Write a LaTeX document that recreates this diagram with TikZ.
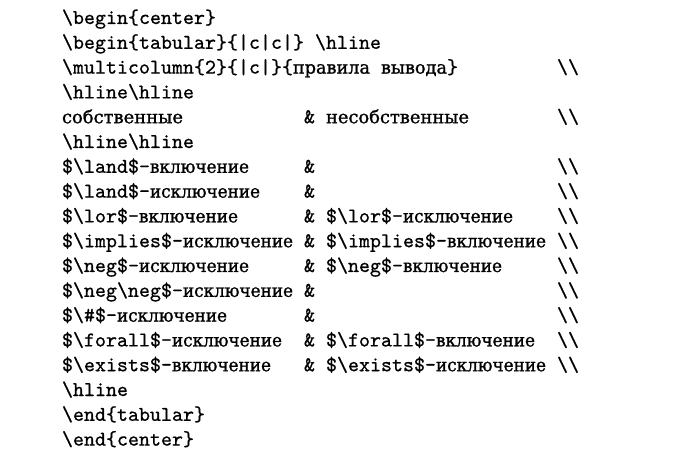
\documentclass[tikz,border=0pt]{standalone}
\usepackage{fontspec}
\usepackage{graphicx}
\newfontfamily\ttf[Extension=.otf,FakeBold=0.7]{lmmono10-regular}
\newfontfamily\cyf[FakeBold=1.2]{DejaVu Serif}
\newlength\cwl
\setlength\cwl{11pt}
\newcommand\mybs{\textbackslash}
\newcommand\mydbs{\textbackslash\textbackslash}
\newcommand\cy[2]{{\cyf\fontsize{17.8pt}{20pt}\selectfont\resizebox{#1\cwl}{\height}{#2}}}
\begin{document}
\begin{tikzpicture}[x=1pt,y=1pt,
  code/.style={anchor=base west,inner sep=0pt,outer sep=0pt,font=\ttf\fontsize{20.952pt}{22pt}\selectfont,text=black}]
\useasboundingbox (0,0) rectangle (696,-454);
\fill[white] (0,0) rectangle (696,-454);
\def\cw{11}
\def\xo{62}
\def\yo{-24}
\def\dy{24.8}
% line 1
\node[code] (l1) at ({\xo},{\yo-0*\dy}) {\mybs begin\{center\}};
% line 2
\node[code] (l2a) at ({\xo},{\yo-1*\dy}) {\mybs begin\{tabular\}\{|c|c|\}};
\node[code] (l2b) at ({\xo+23*\cw},{\yo-1*\dy}) {\mybs hline};
% line 3
\node[code] (l3a) at ({\xo},{\yo-2*\dy}) {\mybs multicolumn\{2\}\{|c|\}\{\cy{7}{правила}};
\node[code] (l3b) at ({\xo+29*\cw},{\yo-2*\dy}) {\cy{6}{вывода}\}};
\node[code] (l3c) at ({\xo+45*\cw},{\yo-2*\dy}) {\mydbs};
% line 4
\node[code] (l4) at ({\xo},{\yo-3*\dy}) {\mybs hline\mybs hline};
% line 5
\node[code] (l5a) at ({\xo},{\yo-4*\dy}) {\cy{11}{собственные}};
\node[code] (l5b) at ({\xo+22*\cw},{\yo-4*\dy}) {\&};
\node[code] (l5c) at ({\xo+24*\cw},{\yo-4*\dy}) {\cy{13}{несобственные}};
\node[code] (l5d) at ({\xo+45*\cw},{\yo-4*\dy}) {\mydbs};
% line 6
\node[code] (l6) at ({\xo},{\yo-5*\dy}) {\mybs hline\mybs hline};
% line 7
\node[code] (l7a) at ({\xo},{\yo-6*\dy}) {\$\mybs land\$-\cy{9}{включение}};
\node[code] (l7b) at ({\xo+22*\cw},{\yo-6*\dy}) {\&};
\node[code] (l7d) at ({\xo+45*\cw},{\yo-6*\dy}) {\mydbs};
% line 8
\node[code] (l8a) at ({\xo},{\yo-7*\dy}) {\$\mybs land\$-\cy{10}{исключение}};
\node[code] (l8b) at ({\xo+22*\cw},{\yo-7*\dy}) {\&};
\node[code] (l8d) at ({\xo+45*\cw},{\yo-7*\dy}) {\mydbs};
% line 9
\node[code] (l9a) at ({\xo},{\yo-8*\dy}) {\$\mybs lor\$-\cy{9}{включение}};
\node[code] (l9b) at ({\xo+22*\cw},{\yo-8*\dy}) {\&};
\node[code] (l9c) at ({\xo+24*\cw},{\yo-8*\dy}) {\$\mybs lor\$-\cy{10}{исключение}};
\node[code] (l9d) at ({\xo+45*\cw},{\yo-8*\dy}) {\mydbs};
% line 10
\node[code] (l10a) at ({\xo},{\yo-9*\dy}) {\$\mybs implies\$-\cy{10}{исключение}};
\node[code] (l10b) at ({\xo+22*\cw},{\yo-9*\dy}) {\&};
\node[code] (l10c) at ({\xo+24*\cw},{\yo-9*\dy}) {\$\mybs implies\$-\cy{9}{включение}};
\node[code] (l10d) at ({\xo+45*\cw},{\yo-9*\dy}) {\mydbs};
% line 11
\node[code] (l11a) at ({\xo},{\yo-10*\dy}) {\$\mybs neg\$-\cy{10}{исключение}};
\node[code] (l11b) at ({\xo+22*\cw},{\yo-10*\dy}) {\&};
\node[code] (l11c) at ({\xo+24*\cw},{\yo-10*\dy}) {\$\mybs neg\$-\cy{9}{включение}};
\node[code] (l11d) at ({\xo+45*\cw},{\yo-10*\dy}) {\mydbs};
% line 12
\node[code] (l12a) at ({\xo},{\yo-11*\dy}) {\$\mybs neg\mybs neg\$-\cy{10}{исключение}};
\node[code] (l12b) at ({\xo+22*\cw},{\yo-11*\dy}) {\&};
\node[code] (l12d) at ({\xo+45*\cw},{\yo-11*\dy}) {\mydbs};
% line 13
\node[code] (l13a) at ({\xo},{\yo-12*\dy}) {\$\mybs\#\$-\cy{10}{исключение}};
\node[code] (l13b) at ({\xo+22*\cw},{\yo-12*\dy}) {\&};
\node[code] (l13d) at ({\xo+45*\cw},{\yo-12*\dy}) {\mydbs};
% line 14
\node[code] (l14a) at ({\xo},{\yo-13*\dy}) {\$\mybs forall\$-\cy{10}{исключение}};
\node[code] (l14b) at ({\xo+22*\cw},{\yo-13*\dy}) {\&};
\node[code] (l14c) at ({\xo+24*\cw},{\yo-13*\dy}) {\$\mybs forall\$-\cy{9}{включение}};
\node[code] (l14d) at ({\xo+45*\cw},{\yo-13*\dy}) {\mydbs};
% line 15
\node[code] (l15a) at ({\xo},{\yo-14*\dy}) {\$\mybs exists\$-\cy{9}{включение}};
\node[code] (l15b) at ({\xo+22*\cw},{\yo-14*\dy}) {\&};
\node[code] (l15c) at ({\xo+24*\cw},{\yo-14*\dy}) {\$\mybs exists\$-\cy{10}{исключение}};
\node[code] (l15d) at ({\xo+45*\cw},{\yo-14*\dy}) {\mydbs};
% line 16-18
\node[code] (l16) at ({\xo},{\yo-15*\dy}) {\mybs hline};
\node[code] (l17) at ({\xo},{\yo-16*\dy}) {\mybs end\{tabular\}};
\node[code] (l18) at ({\xo},{\yo-17*\dy}) {\mybs end\{center\}};
\end{tikzpicture}
\end{document}
